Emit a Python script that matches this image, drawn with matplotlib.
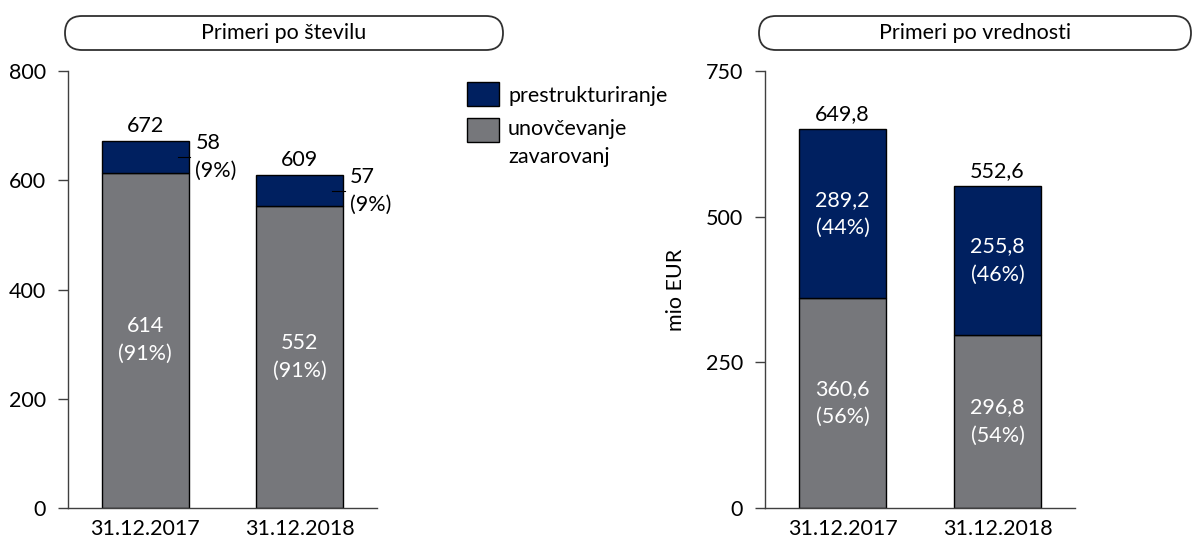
import numpy as np
import matplotlib
matplotlib.use('Agg')
import matplotlib.pyplot as plt
from matplotlib.patches import FancyBboxPatch, Rectangle

plt.rcParams['font.family'] = ['Lato', 'DejaVu Sans']
plt.rcParams['font.size'] = 15.5

dates = ['31.12.2017', '31.12.2018']

# stevilo primerov
cnt_unovc = [614, 552]
cnt_prestr = [58, 57]
cnt_total = [672, 609]
cnt_unovc_pct = ['91%', '91%']
cnt_prestr_pct = ['9%', '9%']

# vrednost primerov (mio EUR)
val_unovc = [360.6, 296.8]
val_prestr = [289.2, 255.8]
val_total = [649.8, 552.6]
val_unovc_pct = ['56%', '54%']
val_prestr_pct = ['44%', '46%']

navy = '#002060'
grey = '#76777b'
spine_c = '#404040'
ls = 1.5

def fmt(v, dec):
    if dec == 0:
        return '%d' % v
    return ('%.1f' % v).replace('.', ',')

fig = plt.figure(figsize=(11.93, 5.40), dpi=100)
ax1 = fig.add_axes([68/1193, 32/540, 309/1193, 437/540])
ax2 = fig.add_axes([765/1193, 32/540, 310/1193, 437/540])

def draw(ax, low, high, total, low_pct, high_pct, ymax, yticks, dec, inside_high):
    x = np.arange(len(dates))
    w = 0.56
    ax.bar(x, low, w, color=grey, edgecolor='black', linewidth=1, zorder=2)
    ax.bar(x, high, w, bottom=low, color=navy, edgecolor='black', linewidth=1, zorder=2)
    for i in range(len(x)):
        ax.text(x[i], low[i] / 2, fmt(low[i], dec) + '\n(' + low_pct[i] + ')',
                color='white', ha='center', va='center', linespacing=ls)
        ax.annotate(fmt(total[i], dec), (x[i], total[i]), xytext=(0, 11),
                    textcoords='offset points', ha='center', va='center')
        mid = low[i] + high[i] / 2
        if inside_high:
            ax.text(x[i], mid, fmt(high[i], dec) + '\n(' + high_pct[i] + ')',
                    color='white', ha='center', va='center', linespacing=ls)
        else:
            ax.plot([x[i] + w/2 - 0.07, x[i] + w/2 + 0.01], [mid, mid], color='black', lw=0.8, zorder=3)
            ax.text(x[i] + w/2 + 0.045, mid, fmt(high[i], dec) + '\n(' + high_pct[i] + ')',
                    ha='left', va='center', linespacing=ls)
    ax.set_xlim(-0.5, 1.5)
    ax.set_ylim(0, ymax)
    ax.set_yticks(yticks)
    ax.set_xticks(x)
    ax.set_xticklabels(dates)
    ax.tick_params(axis='x', length=0, pad=8)
    ax.tick_params(axis='y', length=7, width=1, color=spine_c, pad=9)
    for s in ['top', 'right']:
        ax.spines[s].set_visible(False)
    for s in ['left', 'bottom']:
        ax.spines[s].set_color(spine_c)
        ax.spines[s].set_linewidth(1)

draw(ax1, cnt_unovc, cnt_prestr, cnt_total, cnt_unovc_pct, cnt_prestr_pct,
     800, [0, 200, 400, 600, 800], 0, False)
draw(ax2, val_unovc, val_prestr, val_total, val_unovc_pct, val_prestr_pct,
     750, [0, 250, 500, 750], 1, True)
ax2.set_ylabel('mio EUR', labelpad=14)

# naslovi v zaobljenih okvirjih
for (x0, x1, title) in [(0.65, 5.03, 'Primeri po številu'), (7.59, 11.91, 'Primeri po vrednosti')]:
    box = FancyBboxPatch((x0, 4.90), x1 - x0, 0.34,
                         boxstyle='round,pad=0,rounding_size=0.17',
                         transform=fig.dpi_scale_trans, facecolor='white',
                         edgecolor='#303030', linewidth=1.3)
    fig.add_artist(box)
    fig.text((x0 + x1) / 2, 5.07, title, ha='center', va='center',
             transform=fig.dpi_scale_trans)

# legenda
for (y0, c) in [(4.34, navy), (3.98, grey)]:
    fig.add_artist(Rectangle((4.67, y0), 0.32, 0.24, transform=fig.dpi_scale_trans,
                             facecolor=c, edgecolor='black', linewidth=1))
fig.text(5.08, 4.44, 'prestrukturiranje', ha='left', va='center', transform=fig.dpi_scale_trans)
fig.text(5.08, 4.21, 'unovčevanje\nzavarovanj', ha='left', va='top', linespacing=ls,
         transform=fig.dpi_scale_trans)

fig.savefig('out.png', dpi=100)
